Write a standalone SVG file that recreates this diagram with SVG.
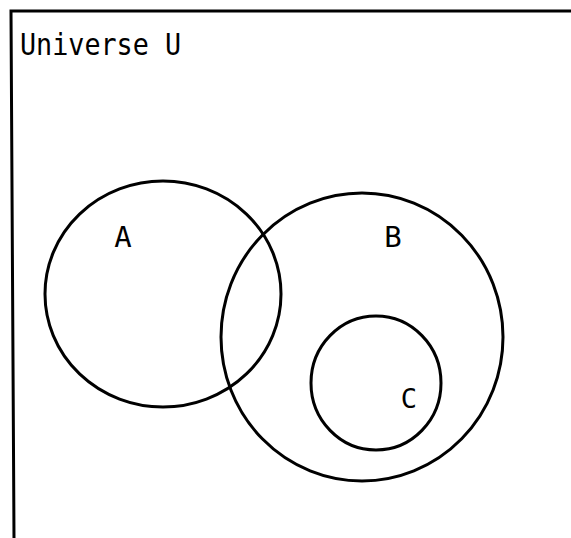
<svg xmlns="http://www.w3.org/2000/svg" width="571" height="538" viewBox="0 0 571 538">
<style>
.set{fill:none;stroke:#000;stroke-width:3}
.lbl{font-family:"DejaVu Sans Mono",monospace;font-size:29px;fill:#000}
</style>
<rect width="571" height="538" fill="#fff"/>
<g id="universe">
<path d="M14,538 L11,11 L571,11" fill="none" stroke="#000" stroke-width="3"/>
<text class="lbl" x="20" y="55" style="font-size:30px" textLength="161" lengthAdjust="spacingAndGlyphs">Universe U</text>
</g>
<g id="setA">
<ellipse class="set" cx="163" cy="294" rx="118" ry="113"/>
<text class="lbl" x="123" y="247" text-anchor="middle">A</text>
</g>
<g id="setB">
<ellipse class="set" cx="362" cy="337" rx="141" ry="144"/>
<text class="lbl" x="393" y="247" text-anchor="middle">B</text>
</g>
<g id="setC">
<ellipse class="set" cx="376" cy="383" rx="65" ry="67"/>
<text class="lbl" x="409" y="408" text-anchor="middle" style="font-size:27px">C</text>
</g>
<g id="connectors"></g>
</svg>
